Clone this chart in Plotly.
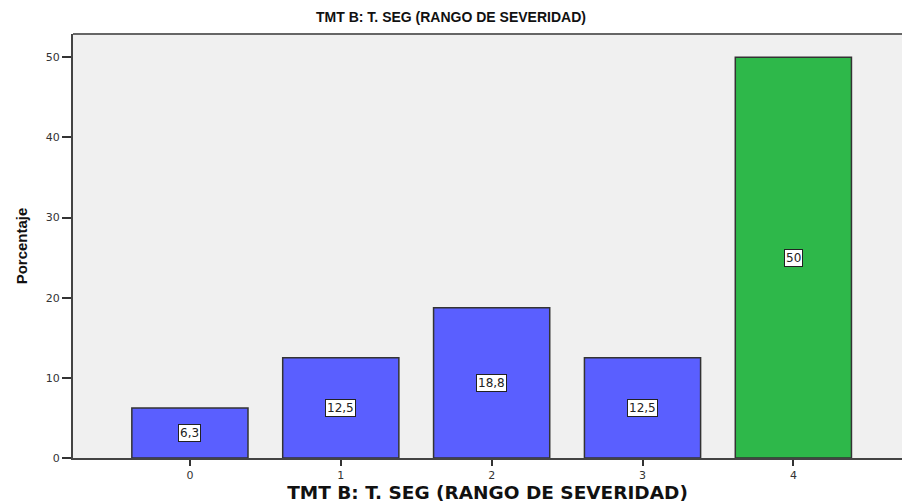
import plotly.graph_objects as go

# data
categorias = ["0", "1", "2", "3", "4"]
porcentajes = [6.25, 12.5, 18.75, 12.5, 50.0]
etiquetas = ["6,3", "12,5", "18,8", "12,5", "50"]
colores = ["#5a5fff", "#5a5fff", "#5a5fff", "#5a5fff", "#2eb84a"]

titulo = "TMT B: T. SEG (RANGO DE SEVERIDAD)"

fig = go.Figure()
fig.add_trace(go.Bar(
    x=[int(c) for c in categorias],
    y=porcentajes,
    width=0.77,
    marker=dict(color=colores, line=dict(color="#333333", width=1.5)),
    hoverinfo="skip",
))

# value labels in white boxes at mid-height of each bar
for c, v, t in zip(categorias, porcentajes, etiquetas):
    fig.add_annotation(
        x=int(c), y=v / 2, text=t, showarrow=False,
        font=dict(family="DejaVu Sans, Liberation Sans", size=12, color="#222222"),
        bgcolor="white", bordercolor="#222222", borderwidth=1, borderpad=1,
    )

fig.update_layout(
    width=902, height=504,
    margin=dict(l=73, r=0, t=34, b=46),
    paper_bgcolor="white",
    plot_bgcolor="#f0f0f0",
    showlegend=False,
    title=dict(
        text="<b>" + titulo + "</b>",
        x=0.5, xanchor="center", y=0.966, yanchor="middle",
        font=dict(family="Liberation Sans, Arial", size=14, color="#111111"),
    ),
)

fig.update_xaxes(
    range=[-0.775, 4.72],
    tickvals=[int(c) for c in categorias], ticktext=categorias,
    ticks="outside", ticklen=6, tickwidth=1.5, tickcolor="#333333",
    tickfont=dict(family="DejaVu Sans, Liberation Sans", size=11, color="#333333"),
    showline=True, linecolor="#444444", linewidth=2, mirror=False,
    showgrid=False, zeroline=False,
    title=dict(text="<b>" + titulo + "</b>", standoff=2,
               font=dict(family="DejaVu Sans, Liberation Sans", size=18.5, color="#111111")),
)

fig.update_yaxes(
    range=[0, 52.9],
    tickvals=[0, 10, 20, 30, 40, 50],
    ticks="outside", ticklen=9, tickwidth=1.5, tickcolor="#333333",
    tickfont=dict(family="DejaVu Sans, Liberation Sans", size=11, color="#333333"),
    showline=True, linecolor="#444444", linewidth=2, mirror=False,
    showgrid=False, zeroline=False,
    title=dict(text="<b>Porcentaje</b>", standoff=15,
               font=dict(family="Liberation Sans, Arial", size=15, color="#111111")),
)

# frame line on top of the plot area like the original
fig.add_shape(type="line", xref="paper", yref="paper", x0=0, x1=1, y0=1, y1=1,
              line=dict(color="#666666", width=2))

fig.write_html("out.html", config={"displayModeBar": False},
               post_script="document.body.style.margin='0';")
